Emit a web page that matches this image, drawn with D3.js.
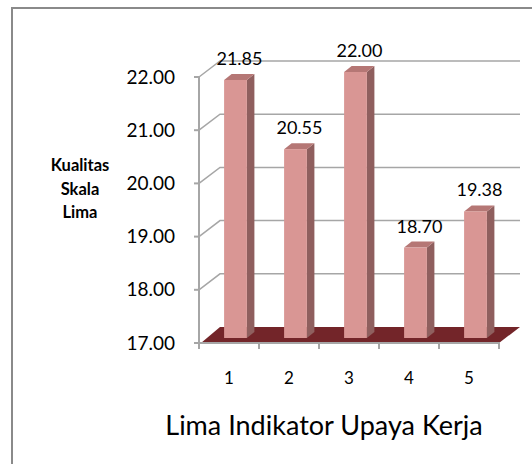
<!DOCTYPE html>
<html><head><meta charset="utf-8">
<script src="https://cdn.jsdelivr.net/npm/d3@7/dist/d3.min.js"></script>
<style>html,body{margin:0;padding:0;background:#fff;}svg{display:block;font-family:Lato,"Open Sans",sans-serif;}</style>
</head><body>
<script>
const categories = ["1","2","3","4","5"];
const values = [21.85, 20.55, 22.00, 18.70, 19.38];
const labels = ["21.85","20.55","22.00","18.70","19.38"];
const yTicks = [17,18,19,20,21,22];
const yTitle = ["Kualitas","Skala","Lima"];
const xTitle = "Lima Indikator Upaya Kerja";

const W = 532, H = 464;
const svg = d3.select("body").append("svg").attr("width", W).attr("height", H);

// frame
svg.append("rect").attr("x",12).attr("y",8).attr("width",540).attr("height",480)
  .attr("fill","#fff").attr("stroke","#8a8a8a").attr("stroke-width",2);

const x0 = 199, x1 = 499;
const y = d3.scaleLinear().domain([17,22]).range([343,77]);
const x = d3.scaleBand().domain(categories).range([x0,x1]).paddingInner(0.62).paddingOuter(0.31);
const DX = 21, DY = -16;          // depth of wall/floor
const bdx = 6.5, bdy = -5;        // bar position in depth
const sdx = 7.5, sdy = -6;        // bar depth
const grid = "#a6a6a6";

// back wall gridlines + diagonals
const g = svg.append("g");
yTicks.forEach(t => {
  if (t === 17) return;
  g.append("path").attr("d", `M${x0},${y(t)} L${x0+DX},${y(t)+DY} L${x1+DX},${y(t)+DY}`)
    .attr("fill","none").attr("stroke",grid).attr("stroke-width",1.5);
});

// floor
g.append("path").attr("d", `M${x0+2},${y(17)} L${x1},${y(17)} L${x1+DX},${y(17)+DY} L${x0+DX},${y(17)+DY} Z`)
  .attr("fill","#732529");

// axes lines
g.append("line").attr("x1",x0).attr("x2",x0).attr("y1",y(22)).attr("y2",y(17)+1)
  .attr("stroke",grid).attr("stroke-width",2);
g.append("line").attr("x1",x0-5).attr("x2",x1+1).attr("y1",y(17)).attr("y2",y(17))
  .attr("stroke",grid).attr("stroke-width",2);
yTicks.forEach(t => g.append("line").attr("x1",x0-5).attr("x2",x0).attr("y1",y(t)).attr("y2",y(t))
  .attr("stroke",grid).attr("stroke-width",2));
const xt = categories.map(c => x(c) - x.step()*x.paddingInner()/2).concat([x1]);
xt.forEach(v => g.append("line").attr("x1",v).attr("x2",v).attr("y1",y(17)).attr("y2",y(17)+6)
  .attr("stroke",grid).attr("stroke-width",2));

// bars
const bars = svg.append("g");
categories.forEach((c,i) => {
  const bx = x(c) + bdx, bw = x.bandwidth();
  const base = y(17) + bdy, top = y(values[i]) + bdy;
  bars.append("path").attr("d", `M${bx+bw},${top} L${bx+bw+sdx},${top+sdy} L${bx+bw+sdx},${base+sdy} L${bx+bw},${base} Z`)
    .attr("fill","#8f5f5e");
  bars.append("path").attr("d", `M${bx},${top} L${bx+sdx},${top+sdy} L${bx+bw+sdx},${top+sdy} L${bx+bw},${top} Z`)
    .attr("fill","#b57775");
  bars.append("rect").attr("x",bx).attr("y",top).attr("width",bw).attr("height",base-top)
    .attr("fill","#d99694");
  bars.append("text").attr("x", bx + bw/2 + 4).attr("y", top - 15)
    .attr("text-anchor","middle").attr("font-size",18).attr("fill","#000").text(labels[i]);
});

// y tick labels
yTicks.forEach(t => svg.append("text").attr("x",175).attr("y",y(t)+6.5)
  .attr("text-anchor","end").attr("font-size",19).attr("fill","#000").text(d3.format(".2f")(t)));

// x tick labels
categories.forEach(c => svg.append("text").attr("x",x(c)+x.bandwidth()/2).attr("y",384)
  .attr("text-anchor","middle").attr("font-size",17).attr("fill","#000").text(c));

// y title
yTitle.forEach((s,i) => svg.append("text").attr("x",80).attr("y",171+i*23.5)
  .attr("text-anchor","middle").attr("font-size",16.5).attr("font-weight","bold").attr("fill","#000").text(s));

// x title
svg.append("text").attr("x",324).attr("y",435).attr("text-anchor","middle")
  .attr("font-size",27).attr("fill","#000").text(xTitle);
</script>
</body></html>
